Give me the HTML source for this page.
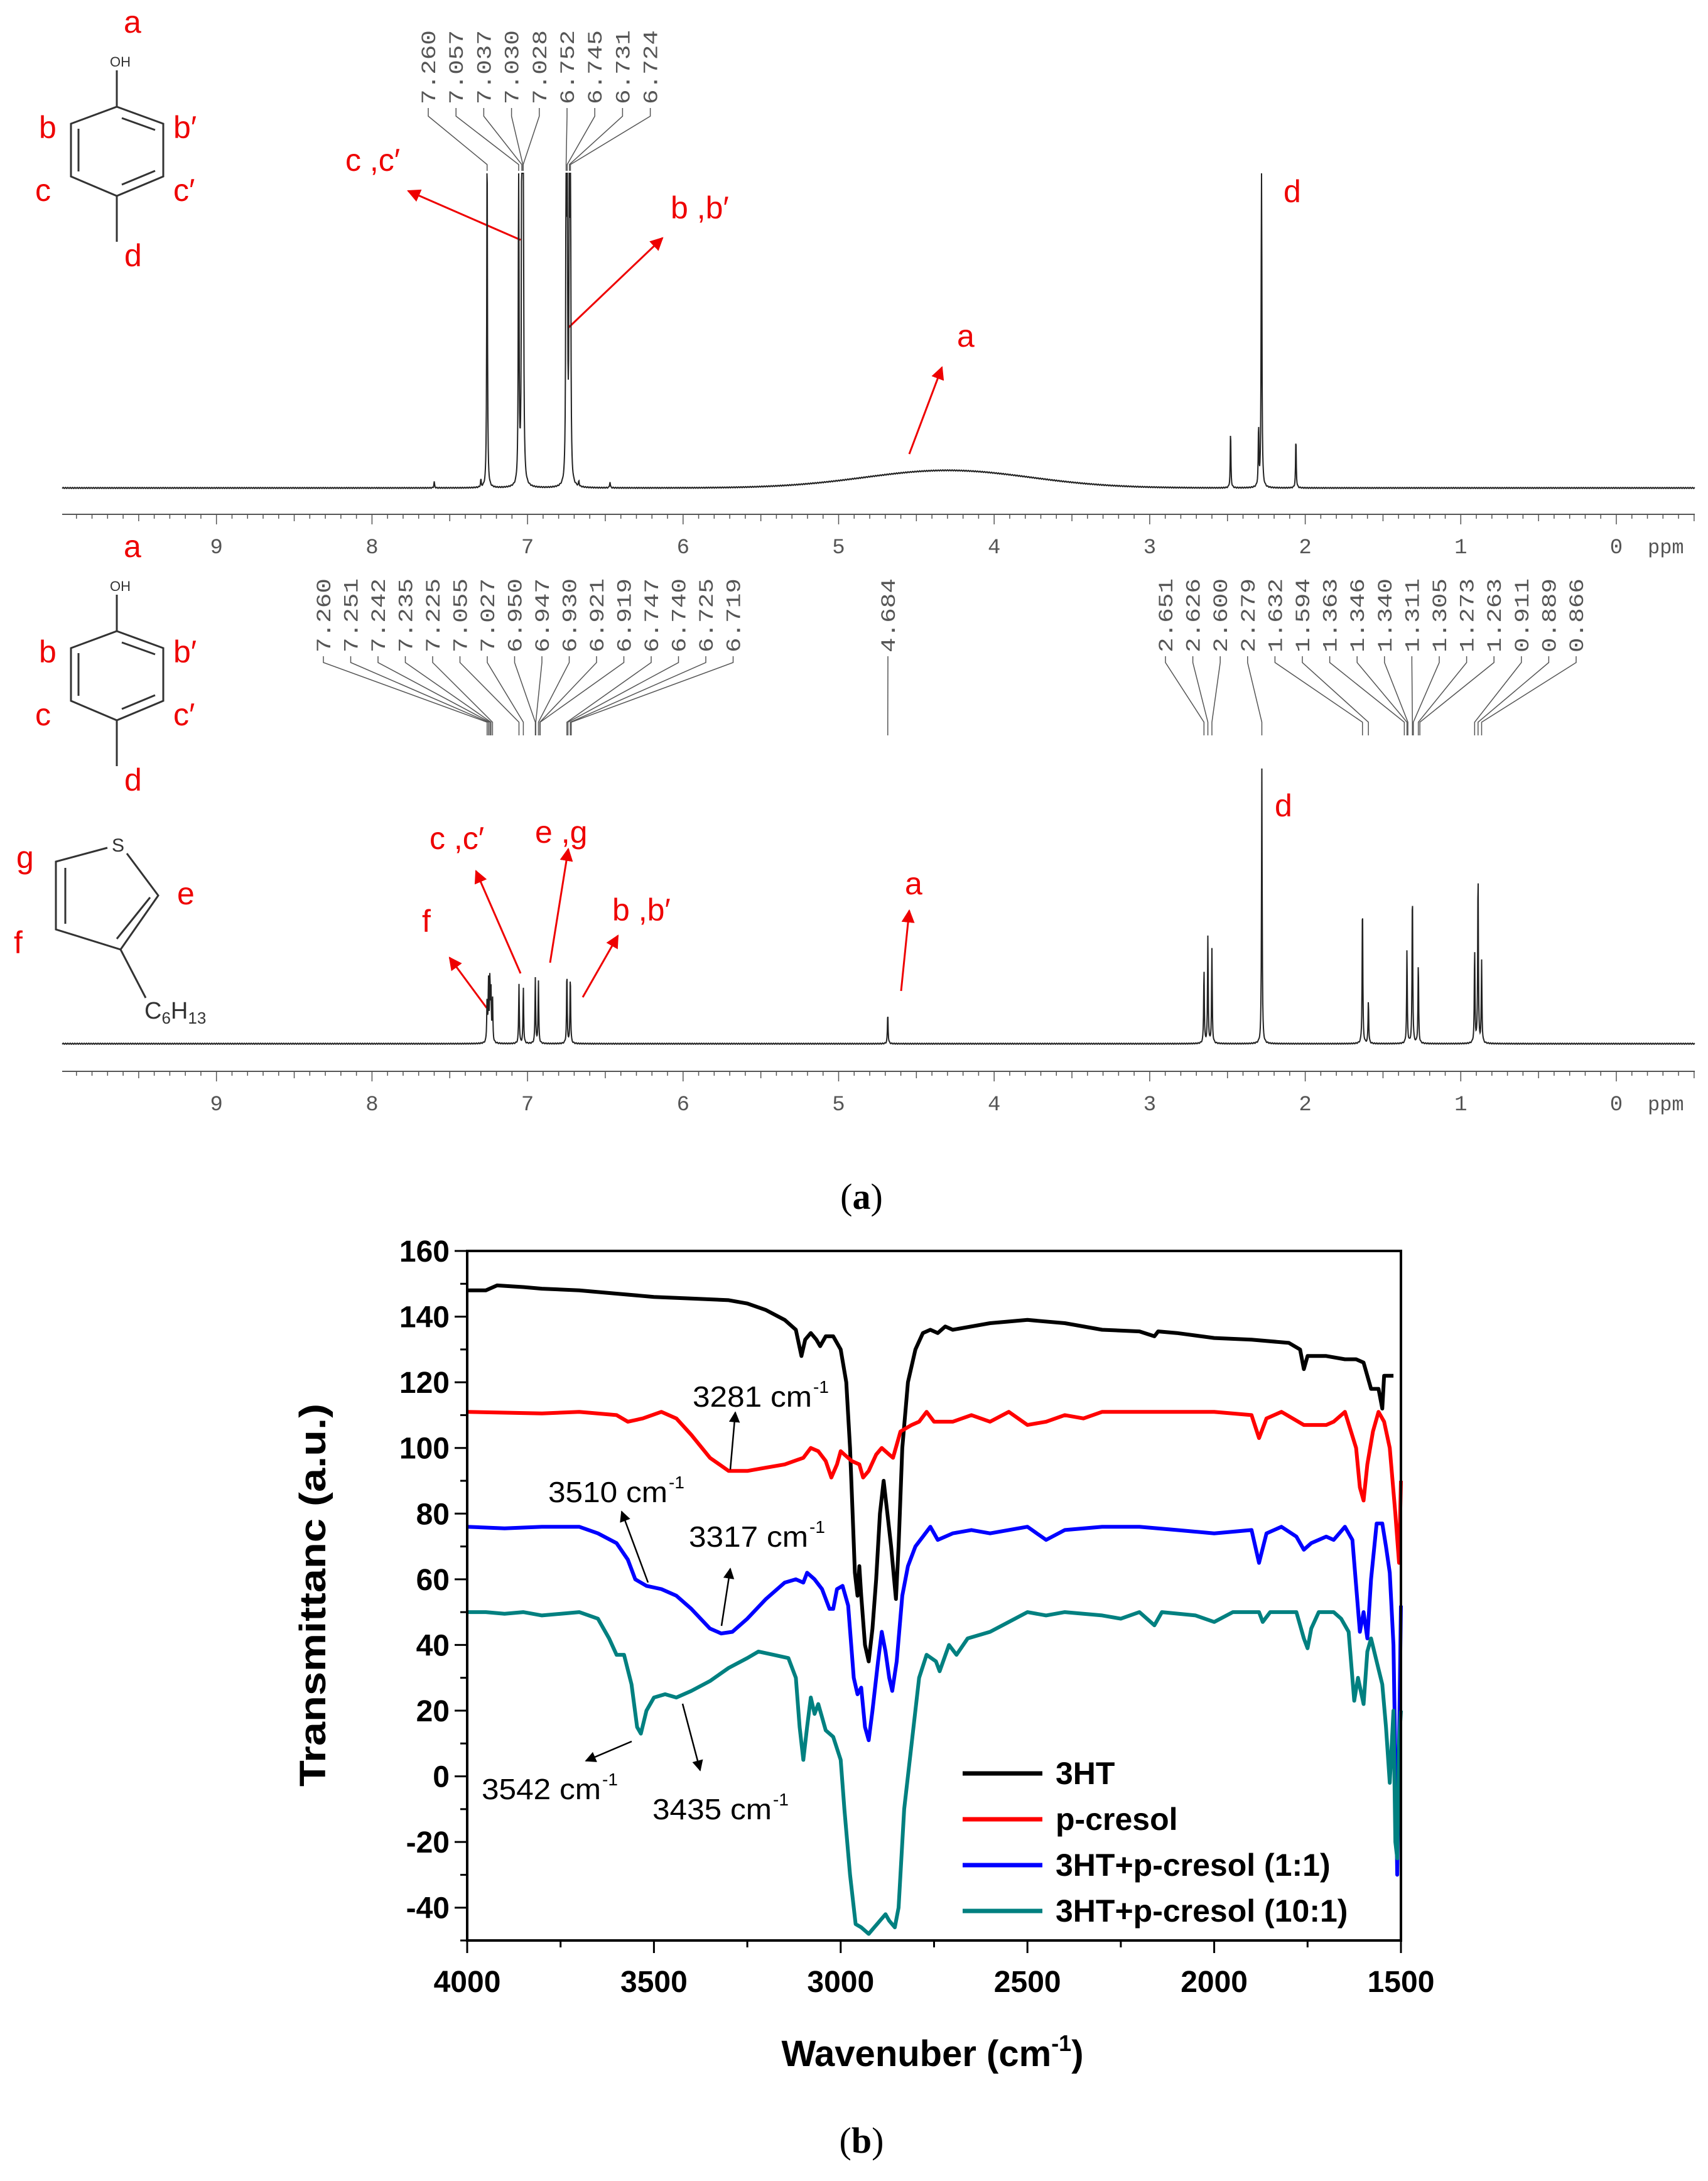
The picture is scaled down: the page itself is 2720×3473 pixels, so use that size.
<!DOCTYPE html>
<html><head><meta charset="utf-8">
<style>
html,body{margin:0;padding:0;background:#fff;}
svg{display:block;}
.mono{font-family:"Liberation Mono",monospace;fill:#555;}
.red{font-family:"Liberation Sans",sans-serif;fill:#e00;font-size:50px;}
.bold{font-family:"Liberation Sans",sans-serif;font-weight:bold;}
</style></head>
<body>
<svg id="fig" width="2720" height="3473" viewBox="0 0 2720 3473" xmlns="http://www.w3.org/2000/svg">
<defs>
<marker id="ar" viewBox="0 0 10 10" refX="9" refY="5" markerWidth="7" markerHeight="7" orient="auto"><path d="M0,0L10,5L0,10z" fill="#e00"/></marker>
<marker id="ak" viewBox="0 0 10 10" refX="9" refY="5" markerWidth="7" markerHeight="7" orient="auto"><path d="M0,0L10,5L0,10z" fill="#000"/></marker>
</defs>

<g stroke="#333" stroke-width="3" fill="none">
<path d="M186,170 L260,197 L260,281 L186,312 L113,281 L113,197 Z"/>
<path d="M194,188 L247,207 M247,272 L194,294 M125,205 L125,273"/>
<path d="M186,170 L186,112 M186,312 L186,385"/>
</g>
<text x="175" y="106" font-family="Liberation Sans" font-size="22" fill="#333">OH</text>
<text class="red" x="197" y="52">a</text>
<text class="red" x="62" y="220">b</text>
<text class="red" x="276" y="220">b′</text>
<text class="red" x="56" y="320">c</text>
<text class="red" x="276" y="320">c′</text>
<text class="red" x="198" y="424">d</text>

<g transform="translate(0,835)">
<g stroke="#333" stroke-width="3" fill="none">
<path d="M186,170 L260,197 L260,281 L186,312 L113,281 L113,197 Z"/>
<path d="M194,188 L247,207 M247,272 L194,294 M125,205 L125,273"/>
<path d="M186,170 L186,112 M186,312 L186,385"/>
</g>
<text x="175" y="106" font-family="Liberation Sans" font-size="22" fill="#333">OH</text>
<text class="red" x="197" y="52">a</text>
<text class="red" x="62" y="220">b</text>
<text class="red" x="276" y="220">b′</text>
<text class="red" x="56" y="320">c</text>
<text class="red" x="276" y="320">c′</text>
<text class="red" x="198" y="424">d</text>
</g>

<g stroke="#333" stroke-width="3" fill="none">
<path d="M171,1350 L89,1372 L89,1480 L192,1512 L252,1426 L202,1359"/>
<path d="M104,1382 L104,1471 M186,1495 L239,1429 M192,1512 L232,1589"/>
</g>
<text x="178" y="1356" font-family="Liberation Sans" font-size="30" fill="#333">S</text>
<text x="230" y="1622" font-family="Liberation Sans" font-size="38" fill="#333">C<tspan font-size="26" dy="8">6</tspan><tspan dy="-8">H</tspan><tspan font-size="26" dy="8">13</tspan></text>
<text class="red" x="26" y="1382">g</text>
<text class="red" x="282" y="1440">e</text>
<text class="red" x="22" y="1518">f</text>

<g stroke="#e00" stroke-width="3">
<line x1="829" y1="382" x2="650" y2="304" marker-end="url(#ar)"/>
<line x1="905" y1="522" x2="1055" y2="379" marker-end="url(#ar)"/>
<line x1="1448" y1="723" x2="1500" y2="585" marker-end="url(#ar)"/>
<line x1="829" y1="1550" x2="758" y2="1387" marker-end="url(#ar)"/>
<line x1="876" y1="1533" x2="905" y2="1352" marker-end="url(#ar)"/>
<line x1="775" y1="1605" x2="716" y2="1525" marker-end="url(#ar)"/>
<line x1="928" y1="1588" x2="984" y2="1490" marker-end="url(#ar)"/>
<line x1="1435" y1="1578" x2="1448" y2="1450" marker-end="url(#ar)"/>
</g>
<text class="red" x="550" y="272">c ,c′</text>
<text class="red" x="1068" y="348">b ,b′</text>
<text class="red" x="2044" y="322">d</text>
<text class="red" x="1524" y="552">a</text>
<text class="red" x="684" y="1352">c ,c′</text>
<text class="red" x="852" y="1342">e ,g</text>
<text class="red" x="672" y="1484">f</text>
<text class="red" x="975" y="1466">b ,b′</text>
<text class="red" x="1441" y="1424">a</text>
<text class="red" x="2030" y="1300">d</text>

<g id="nmr"></g>
<g id="ir"></g>

<text x="1372" y="1925" text-anchor="middle" font-family="Liberation Serif" font-size="58">(<tspan font-weight="bold">a</tspan>)</text>
<text x="1372" y="3428" text-anchor="middle" font-family="Liberation Serif" font-size="58">(<tspan font-weight="bold">b</tspan>)</text>
</svg>

<script>
const nmr1Labels = ["7.260","7.057","7.037","7.030","7.028","6.752","6.745","6.731","6.724"];
const nmr1Ppm = [7.26,7.057,7.037,7.030,7.028,6.752,6.745,6.731,6.724,2.281,2.48,2.30,2.06,7.60,6.47,6.67,7.30];
const nmr1Height = [600,600,600,600,600,600,600,600,600,600,91,95,80,10,10,8,12];
const nmr1Hump = [4.3, 28, 0.75];
const nmr2LabelsLeft = ["7.260","7.251","7.242","7.235","7.225","7.055","7.027","6.950","6.947","6.930","6.921","6.919","6.747","6.740","6.725","6.719"];
const nmr2LabelMid = ["4.684"];
const nmr2LabelsRight = ["2.651","2.626","2.600","2.279","1.632","1.594","1.363","1.346","1.340","1.311","1.305","1.273","1.263","0.911","0.889","0.866"];
const nmr2Ppm = [7.26,7.251,7.242,7.235,7.225,7.055,7.027,6.950,6.930,6.747,6.725,4.684,2.651,2.626,2.600,2.279,1.632,1.594,1.346,1.311,1.273,0.911,0.889,0.866];
const nmr2Height = [70,95,100,80,70,95,90,105,100,115,110,49,120,170,150,439,230,70,150,250,130,150,280,130];

const SVGNS="http://www.w3.org/2000/svg";
function mk(tag,attrs,parent){const e=document.createElementNS(SVGNS,tag);for(const k in attrs)e.setAttribute(k,attrs[k]);parent.appendChild(e);return e;}
const xp = p => 2574 - p*247.7;
const nmr=document.getElementById('nmr');

function spectrum(ppms,hts,base,top,hump,name){
  let d="";
  for(let x=99;x<=2699;x+=0.5){
    const p=(2574-x)/247.7;
    let y=0;
    for(let i=0;i<ppms.length;i++){const g=0.0025;const dd=(p-ppms[i])/g;y+=hts[i]/(1+dd*dd);}
    if(hump){const dd=(p-hump[0])/hump[2];y+=hump[1]*Math.exp(-dd*dd);}
    y+= (Math.sin(x*1.7)*0.8);
    let yy=Math.max(top,base-y);
    d+=(d?"L":"M")+x.toFixed(1)+","+yy.toFixed(1);
  }
  const el=mk('path',{d:d,fill:"none",stroke:"#222","stroke-width":2},nmr);
  
  
}
spectrum(nmr1Ppm,nmr1Height,777,276,nmr1Hump,'nmr-spectrum-p-cresol');
spectrum(nmr2Ppm,nmr2Height,1662,1223,null,'nmr-spectrum-mixture');

function axis(y,ly,name){
  const g=mk('g',{},nmr);
  
  
  mk('line',{x1:99,y1:y,x2:2699,y2:y,stroke:"#555","stroke-width":2},g);
  for(let i=-5;i<=100;i++){
    const p=i/10;const x=xp(p);if(x<99||x>2699)continue;
    const major=i%10===0, half=i%5===0;
    mk('line',{x1:x,y1:y,x2:x,y2:y+(major?16:half?11:7),stroke:"#555","stroke-width":1.5},g);
  }
  for(let p=0;p<=9;p++){
    const t=mk('text',{x:xp(p),y:ly,"text-anchor":"middle","font-size":34,class:"mono"},g);
    t.textContent=String(p);
  }
  const t=mk('text',{x:2624,y:ly,"font-size":32,class:"mono"},g);t.textContent="ppm";
}
axis(819,881,'nmr-x-axis-top');
axis(1706,1768,'nmr-x-axis-bottom');

function labels(list,x0,dx,ppms,yb,yl1,yl2,yend,name){
  const g=mk('g',{},nmr);
  
  
  list.forEach((s,i)=>{
    const lx=x0+i*dx;
    const t=mk('text',{transform:`translate(${lx+11},${yb}) rotate(-90)`,"font-size":32,class:"mono",textLength:118,lengthAdjust:"spacingAndGlyphs"},g);
    t.textContent=s;
    const px=xp(ppms[i]);
    mk('polyline',{points:`${lx},${yb+6} ${lx},${yl1} ${px},${yl2} ${px},${yend}`,fill:"none",stroke:"#555","stroke-width":1.5},g);
  });
}
labels(nmr1Labels,682,44.2,nmr1Labels.map(Number),166,185,262,272,'peak-labels-top');
labels(nmr2LabelsLeft,515,43.5,nmr2LabelsLeft.map(Number),1039,1055,1150,1171,'peak-labels-bottom-left');
labels(nmr2LabelMid,1414,0,nmr2LabelMid.map(Number),1039,1055,1150,1171,'peak-label-4684');
labels(nmr2LabelsRight,1856,43.6,nmr2LabelsRight.map(Number),1039,1055,1150,1171,'peak-labels-bottom-right');

const irYTicks=[160,140,120,100,80,60,40,20,0,-20,-40];
const irXTicks=[4000,3500,3000,2500,2000,1500];
const w3HT=[4000,3950,3920,3850,3800,3700,3600,3500,3400,3300,3250,3200,3150,3120,3105,3095,3080,3065,3055,3040,3020,3000,2985,2975,2968,2962,2955,2950,2945,2935,2925,2915,2905,2895,2885,2875,2865,2857,2852,2845,2835,2820,2800,2780,2760,2740,2720,2700,2600,2500,2400,2300,2200,2160,2150,2100,2000,1900,1800,1770,1760,1750,1700,1650,1620,1600,1580,1560,1550,1545,1520];
const v3HT=[148,148,149.5,149,148.5,148,147,146,145.5,145,144,142,139,136,128,133,135,133,131,134,134,130,120,100,80,62,55,64,55,40,35,45,60,80,90,80,70,60,54,70,100,120,130,135,136,135,137,136,138,139,138,136,135.5,134,135.5,135,133.5,133,132,130,124,128,128,127,127,126,118,118,112,122,122];
const wCresol=[4000,3800,3700,3600,3570,3530,3480,3440,3400,3350,3300,3250,3200,3150,3100,3080,3060,3040,3025,3010,3000,2990,2970,2950,2940,2925,2905,2890,2870,2860,2840,2810,2790,2770,2750,2700,2650,2600,2550,2500,2450,2400,2350,2300,2000,1900,1880,1860,1820,1760,1700,1680,1650,1620,1610,1600,1590,1575,1560,1545,1530,1515,1505,1500];
const vCresol=[111,110.5,111,110,108,109,111,109,104,97,93,93,94,95,97,100,99,96,91,95,99,98,96,95,91,93,98,100,98,97,105,107,108,111,108,108,110,108,111,107,108,110,109,111,111,110,103,109,111,107,107,108,111,100,88,84,95,105,111,108,100,80,65,90];
const wMix11=[4000,3900,3800,3700,3650,3600,3570,3550,3520,3480,3440,3400,3350,3320,3290,3250,3200,3150,3120,3100,3090,3070,3050,3030,3020,3010,2995,2980,2965,2955,2945,2935,2925,2915,2900,2890,2880,2870,2862,2850,2835,2820,2800,2780,2760,2740,2700,2650,2600,2500,2450,2400,2300,2200,2100,2000,1900,1880,1860,1820,1780,1760,1740,1700,1680,1650,1630,1610,1600,1590,1580,1565,1550,1540,1530,1520,1510,1500];
const vMix11=[76,75.5,76,76,74,71,66,60,58,57,55,51,45,43.5,44,48,54,59,60,59,62,60,57,51,51,57,58,52,30,25,27,15,11,20,35,44,38,30,26,35,55,64,70,73,76,72,74,75,74,76,72,75,76,76,75,74,75,65,74,76,73,69,71,73,72,76,72,44,50,42,60,77,77,70,62,40,-30,52];
const wMix101=[4000,3950,3900,3850,3800,3700,3650,3620,3600,3580,3560,3545,3535,3520,3500,3470,3440,3400,3350,3300,3250,3220,3180,3140,3120,3110,3100,3090,3080,3070,3060,3050,3040,3020,3000,2990,2975,2960,2945,2925,2910,2895,2880,2870,2855,2845,2830,2810,2790,2770,2745,2735,2710,2690,2660,2600,2550,2500,2450,2400,2300,2250,2200,2160,2140,2050,2000,1950,1880,1870,1850,1780,1760,1750,1740,1720,1680,1660,1640,1625,1615,1600,1590,1580,1565,1550,1540,1530,1520,1515,1510,1505,1500];
const vMix101=[50,50,49.5,50,49,50,48,42,37,37,28,15,13,20,24,25,24,26,29,33,36,38,37,36,30,15,5,15,24,19,22,18,14,12,5,-10,-30,-45,-46,-48,-46,-44,-42,-44,-46,-40,-10,10,30,37,35,32,40,37,42,44,47,50,49,50,49,48,50,46,50,49,47,50,50,47,50,50,42,39,45,50,50,48,44,23,30,22,38,42,35,28,15,-2,20,-20,-25,10,20];
const legendNames=["3HT","p-cresol","3HT+p-cresol (1:1)","3HT+p-cresol (10:1)"];

const ir=document.getElementById('ir');
const L=744,R=2231,T=1992,B=3090;
const X=w=>L+(4000-w)/2500*(R-L);
const Y=v=>T+(160-v)/210*(B-T);

function series(ws,vs,color,name){
  const d=ws.map((w,i)=>(i?"L":"M")+X(w).toFixed(1)+","+Y(vs[i]).toFixed(1)).join("");
  const p=mk('path',{d:d,fill:"none",stroke:color,"stroke-width":6,"stroke-linejoin":"round"},ir);
  
  
}
series(w3HT,v3HT,"#000",'series-3ht');
series(wCresol,vCresol,"#f00",'series-p-cresol');
series(wMix11,vMix11,"#00f",'series-3ht-p-cresol-1-1');
series(wMix101,vMix101,"#008080",'series-3ht-p-cresol-10-1');

const frame=mk('rect',{x:L,y:T,width:R-L,height:B-T,fill:"none",stroke:"#000","stroke-width":4},ir);



for(let v=-50;v<=160;v+=10){
  const major=v%20===0;
  mk('line',{x1:L,y1:Y(v),x2:L-(major?20:11),y2:Y(v),stroke:"#000","stroke-width":3},ir);
}
irYTicks.forEach(v=>{
  const t=mk('text',{x:L-28,y:Y(v)+17,"text-anchor":"end","font-size":48,class:"bold"},ir);
  
  
  t.textContent=String(v);
});
for(let w=1500;w<=4000;w+=250){
  const major=w%500===0;
  mk('line',{x1:X(w),y1:B,x2:X(w),y2:B+(major?20:11),stroke:"#000","stroke-width":3},ir);
}
irXTicks.forEach(w=>{
  const t=mk('text',{x:X(w),y:3172,"text-anchor":"middle","font-size":48,class:"bold"},ir);
  
  
  t.textContent=String(w);
});

const yt=mk('text',{transform:"translate(518,2540) rotate(-90)","text-anchor":"middle","font-size":58,class:"bold",textLength:610,lengthAdjust:"spacingAndGlyphs"},ir);


yt.textContent="Transmittanc (a.u.)";
const xt=mk('text',{x:1485,y:3290,"text-anchor":"middle","font-size":58,class:"bold"},ir);


xt.innerHTML='Wavenuber (cm<tspan font-size="36" dy="-24">-1</tspan><tspan dy="24">)</tspan>';

const legColors=["#000","#f00","#00f","#008080"];
const legY=[2824,2897,2970,3043];
legendNames.forEach((n,i)=>{
  const g=mk('g',{},ir);
  
  
  mk('line',{x1:1533,y1:legY[i],x2:1660,y2:legY[i],stroke:legColors[i],"stroke-width":7},g);
  const t=mk('text',{x:1681,y:legY[i]+17,"font-size":50,class:"bold"},g);
  t.textContent=n;
});

const ann=[["3281",1103,2240,1163,2340,1171,2249],["3510",873,2392,1032,2520,990,2407],["3317",1097,2463,1149,2589,1163,2498],["3542",767,2865,1006,2773,933,2804],["3435",1039,2897,1087,2713,1115,2819]];
ann.forEach(a=>{
  const g=mk('g',{},ir);
  
  
  mk('line',{x1:a[3],y1:a[4],x2:a[5],y2:a[6],stroke:"#000","stroke-width":2.5,"marker-end":"url(#ak)"},g);
  const t=mk('text',{x:a[1],y:a[2],"font-size":46,"font-family":"Liberation Sans",textLength:190,lengthAdjust:"spacingAndGlyphs"},g);
  t.textContent=a[0]+" cm";
  const s=mk('text',{x:a[1]+192,y:a[2]-22,"font-size":28,"font-family":"Liberation Sans"},g);
  s.textContent="-1";
});
</script>
</body></html>
